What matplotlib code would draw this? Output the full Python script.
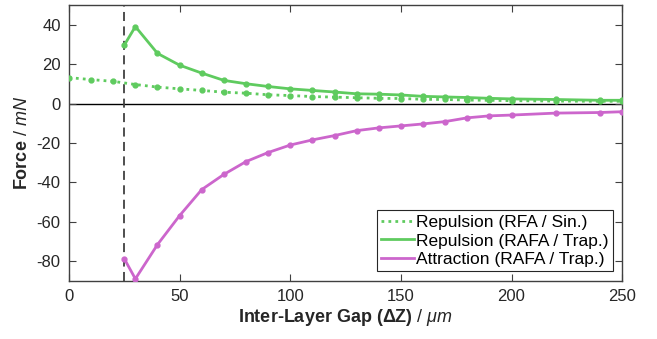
import matplotlib
matplotlib.use("Agg")
import matplotlib.pyplot as plt

plt.rcParams['font.family'] = ['Liberation Sans', 'DejaVu Sans']
plt.rcParams['mathtext.fontset'] = 'custom'
plt.rcParams['mathtext.rm'] = 'Liberation Sans'
plt.rcParams['mathtext.it'] = 'Liberation Sans:italic'
plt.rcParams['mathtext.bf'] = 'Liberation Sans:bold'
plt.rcParams['axes.unicode_minus'] = False

# Data
gap_rfa = [0, 10, 20, 30, 40, 50, 60, 70, 80, 90, 100, 110, 120, 130, 140, 150,
           160, 170, 180, 190, 200, 220, 240, 250]
rep_rfa = [13.2, 12.2, 11.3, 9.7, 8.4, 7.5, 6.7, 5.8, 5.3, 4.5, 4.1, 3.6, 3.3, 3.0,
           2.7, 2.6, 2.2, 2.1, 1.8, 1.7, 1.5, 1.3, 1.2, 1.2]
gap_rafa = [25, 30, 40, 50, 60, 70, 80, 90, 100, 110, 120, 130, 140, 150,
            160, 170, 180, 190, 200, 220, 240, 250]
rep_rafa = [29.7, 39.1, 25.5, 19.5, 15.5, 11.8, 10.1, 8.7, 7.5, 6.7, 5.9, 5.0,
            4.8, 4.4, 3.7, 3.4, 3.1, 2.7, 2.4, 2.1, 1.7, 1.7]
att_rafa = [-78.7, -88.9, -71.5, -56.8, -43.6, -35.9, -29.4, -24.8, -21.0, -18.4,
            -16.2, -13.7, -12.3, -11.3, -10.3, -9.1, -7.2, -6.2, -5.8, -4.8, -4.5, -4.1]
min_gap = 25
xticks = [0, 50, 100, 150, 200, 250]
yticks = [-80, -60, -40, -20, 0, 20, 40]

green = '#5fcb5f'
magenta = '#cc66cc'

fig = plt.figure(figsize=(6.57, 3.39), dpi=100)
ax = fig.add_axes([0.105, 0.171, 0.842, 0.814])

ax.axhline(0, color='black', lw=1.0, zorder=1)
ax.axvline(min_gap, color='#404040', lw=1.3, ls=(0, (5, 3)), zorder=1)

ax.plot(gap_rfa, rep_rfa, ls=(0, (1, 1.5)), lw=2.0, color=green, marker='o', ms=3.5,
        label='Repulsion (RFA / Sin.)', zorder=3)
ax.plot(gap_rafa, rep_rafa, ls='-', lw=2.0, color=green, marker='o', ms=3.5,
        label='Repulsion (RAFA / Trap.)', zorder=3)
ax.plot(gap_rafa, att_rafa, ls='-', lw=2.0, color=magenta, marker='o', ms=3.5,
        label='Attraction (RAFA / Trap.)', zorder=3)

ax.set_xlim(0, 250)
ax.set_ylim(-90, 50)
ax.set_xticks(xticks)
ax.set_yticks(yticks)
ax.tick_params(direction='in', top=True, right=True, labelsize=12, length=5,
               color='#404040', labelcolor='#262626', pad=6)
for s in ax.spines.values():
    s.set_color('#404040')
    s.set_linewidth(1.0)

ax.set_xlabel(r'Inter-Layer Gap ($\mathbf{\Delta}$Z) $\mathrm{/}\ \mathit{\mu m}$',
              fontsize=13, fontweight='bold', color='#262626', labelpad=2)
ax.set_ylabel(r'Force $\mathrm{/}\ \mathit{mN}$', fontsize=13, fontweight='bold',
              color='#262626', labelpad=4)

leg = ax.legend(loc='lower right', fontsize=12.5, handlelength=1.9, handletextpad=0.1,
                borderaxespad=0.55, borderpad=0.25, labelspacing=0.2, fancybox=False,
                framealpha=1, edgecolor='#262626')
leg.get_frame().set_linewidth(0.8)
for h in leg.get_lines():
    h.set_marker('')

fig.savefig('out.png', dpi=100)
